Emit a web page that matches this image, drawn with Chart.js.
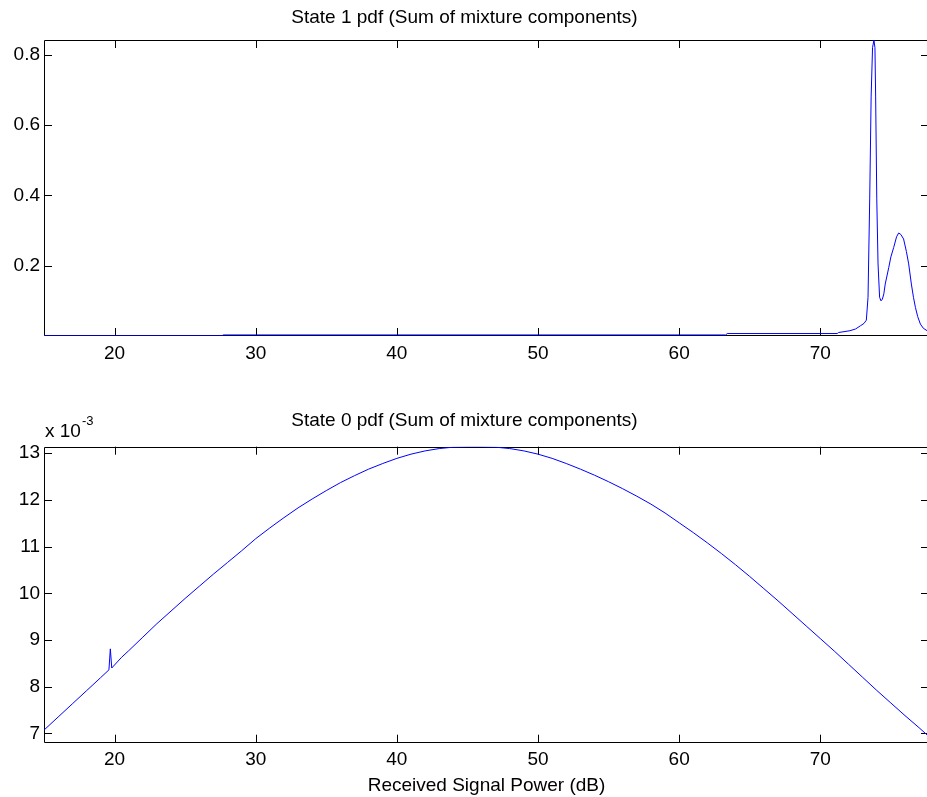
<!DOCTYPE html>
<html lang="en">
<head>
  <meta charset="UTF-8">
  <title>State pdfs</title>
  <style>
    body {
      margin: 0;
      padding: 0;
      background: #fff;
      overflow: hidden;
      width: 927px;
      height: 797px;
      position: relative;
    }
    .panel {
      position: absolute;
      left: 0;
      width: 940px;
    }
    #panelTop { top: 0; height: 400px; }
    #panelBottom { top: 400px; height: 397px; }
  </style>
</head>
<body>
  <div class="panel" id="panelTop"><canvas id="chartState1"></canvas></div>
  <div class="panel" id="panelBottom"><canvas id="chartState0"></canvas></div>

  <script src="https://cdn.jsdelivr.net/npm/chart.js"></script>
  <script>
    // State 1 pdf: received power (dB) and density
    const state1X = [15, 27.6, 27.7, 63.3, 63.4, 71.2, 71.3, 72.1, 72.5, 72.84, 73.1, 73.26, 73.38, 73.5, 73.6, 73.7,
                     73.8, 73.87, 73.92, 74.0, 74.09, 74.2, 74.3, 74.4, 74.5, 74.6, 74.85, 75.0, 75.2, 75.4, 75.55,
                     75.7, 75.9, 76.1, 76.26, 76.45, 76.6, 76.74, 76.9, 77.09, 77.3, 77.57, 77.7];
    const state1Y = [0.0005, 0.0005, 0.003, 0.003, 0.007, 0.007, 0.010, 0.015, 0.020, 0.029, 0.036, 0.045, 0.11, 0.39, 0.68, 0.82,
                     0.842, 0.82, 0.68, 0.39, 0.205, 0.11, 0.10, 0.105, 0.12, 0.148, 0.195, 0.225, 0.252, 0.282, 0.293,
                     0.289, 0.276, 0.24, 0.205, 0.148, 0.11, 0.081, 0.055, 0.034, 0.022, 0.015, 0.012];

    // State 0 pdf, density in units of 1e-3
    const state0X = [15, 16, 17, 18, 19, 19.6, 19.7, 19.8, 20.5, 21, 22, 23, 24, 25, 26, 27, 28, 29, 30,
                     31, 32, 33, 34, 35, 36, 37, 38, 39, 40, 41, 42, 43, 44, 45, 46, 47, 48, 49, 50,
                     51, 52, 53, 54, 55, 56, 57, 58, 59, 60, 61, 62, 63, 64, 65, 66, 67, 68, 69, 70,
                     71, 72, 73, 74, 75, 76, 77, 77.7];
    const state0Y = [7.07, 7.35, 7.63, 7.91, 8.19, 8.36, 8.81, 8.40, 8.63, 8.77, 9.06, 9.35, 9.62, 9.89, 10.15, 10.41, 10.66, 10.91, 11.17,
                     11.40, 11.62, 11.83, 12.02, 12.20, 12.37, 12.52, 12.66, 12.78, 12.89, 12.98, 13.05, 13.10, 13.13, 13.14, 13.14, 13.13, 13.10, 13.05, 12.98,
                     12.89, 12.78, 12.66, 12.53, 12.39, 12.24, 12.08, 11.91, 11.72, 11.51, 11.30, 11.08, 10.85, 10.61, 10.36, 10.10, 9.84, 9.57, 9.30, 9.03,
                     8.76, 8.48, 8.20, 7.92, 7.65, 7.38, 7.12, 6.93];

    const xTicks = [20, 30, 40, 50, 60, 70];
    const yTicksState1 = [0.2, 0.4, 0.6, 0.8];
    const yTicksState0 = [7, 8, 9, 10, 11, 12, 13];

    const FONT = "'Liberation Sans', Arial, Helvetica, sans-serif";
    const TICK_LEN = 8;

    // matlab-like box with inward ticks on all four sides
    const boxPlugin = {
      id: 'box',
      beforeDatasetsDraw(chart) {
        const { ctx, chartArea: a, scales } = chart;
        ctx.save();
        ctx.strokeStyle = '#000';
        ctx.lineWidth = 1;
        ctx.beginPath();
        ctx.rect(Math.round(a.left) + 0.5, Math.round(a.top) + 0.5,
                 Math.round(a.right - a.left), Math.round(a.bottom - a.top) - 1);
        xTicks.forEach(v => {
          const px = Math.round(scales.x.getPixelForValue(v)) + 0.5;
          ctx.moveTo(px, a.bottom); ctx.lineTo(px, a.bottom - TICK_LEN);
          ctx.moveTo(px, a.top); ctx.lineTo(px, a.top + TICK_LEN);
        });
        scales.y.ticks.forEach(t => {
          const py = Math.round(scales.y.getPixelForValue(t.value)) + 0.5;
          ctx.moveTo(a.left, py); ctx.lineTo(a.left + TICK_LEN, py);
          ctx.moveTo(a.right, py); ctx.lineTo(a.right - TICK_LEN, py);
        });
        ctx.stroke();
        ctx.restore();
      }
    };

    // "x 10^-3" exponent label above the lower axes
    const exponentPlugin = {
      id: 'exponent',
      afterDraw(chart) {
        const { ctx, chartArea: a } = chart;
        ctx.save();
        ctx.fillStyle = '#000';
        ctx.textBaseline = 'alphabetic';
        ctx.textAlign = 'left';
        ctx.font = '19px ' + FONT;
        ctx.fillText('x 10', a.left + 1, 36.7);
        const w = ctx.measureText('x 10').width;
        ctx.font = '13px ' + FONT;
        ctx.fillText('-3', a.left + 1 + w + 1, 25);
        ctx.restore();
      }
    };

    function makeChart(id, xs, ys, opts) {
      return new Chart(document.getElementById(id), {
        type: 'line',
        data: {
          datasets: [{
            data: xs.map((x, i) => ({ x: x, y: ys[i] })),
            borderColor: '#0000ff',
            borderWidth: 1,
            pointRadius: 0,
            fill: false,
            tension: 0
          }]
        },
        options: {
          responsive: true,
          maintainAspectRatio: false,
          animation: false,
          layout: { padding: { left: 0, right: 11, top: 0, bottom: 0 } },
          plugins: {
            legend: { display: false },
            tooltip: { enabled: false },
            title: {
              display: true,
              text: opts.title,
              color: '#000',
              font: { family: FONT, size: 19, weight: 'normal', lineHeight: 1.2 },
              padding: opts.titlePadding
            }
          },
          scales: {
            x: {
              type: 'linear',
              min: 15,
              max: 77.7,
              grid: { display: false, drawTicks: false },
              border: { display: false },
              afterBuildTicks: s => { s.ticks = xTicks.map(v => ({ value: v })); },
              afterFit: s => { s.height = opts.xHeight; },
              ticks: { color: '#000', padding: 6, font: { family: FONT, size: 19 }, maxRotation: 0 },
              title: opts.xTitle ? {
                display: true,
                text: opts.xTitle,
                color: '#000',
                font: { family: FONT, size: 19, lineHeight: 1.2 },
                padding: { top: 0, bottom: 0 }
              } : { display: false }
            },
            y: {
              type: 'linear',
              min: opts.yMin,
              max: opts.yMax,
              grid: { display: false, drawTicks: false },
              border: { display: false },
              afterBuildTicks: s => { s.ticks = opts.yTicks.map(v => ({ value: v })); },
              afterFit: s => { s.width = 44; },
              ticks: { color: '#000', padding: 4, font: { family: FONT, size: 19 }, callback: opts.yFormat }
            }
          }
        },
        plugins: opts.plugins
      });
    }

    makeChart('chartState1', state1X, state1Y, {
      title: 'State 1 pdf (Sum of mixture components)',
      titlePadding: { top: 6, bottom: 11.2 },
      xHeight: 64,
      yMin: 0,
      yMax: 0.842,
      yTicks: yTicksState1,
      yFormat: v => v.toFixed(1),
      plugins: [boxPlugin]
    });

    makeChart('chartState0', state0X, state0Y, {
      title: 'State 0 pdf (Sum of mixture components)',
      titlePadding: { top: 9.5, bottom: 14.4 },
      xHeight: 54.3,
      xTitle: 'Received Signal Power (dB)',
      yMin: 6.8,
      yMax: 13.14,
      yTicks: yTicksState0,
      yFormat: v => String(v),
      plugins: [boxPlugin, exponentPlugin]
    });
  </script>
</body>
</html>
